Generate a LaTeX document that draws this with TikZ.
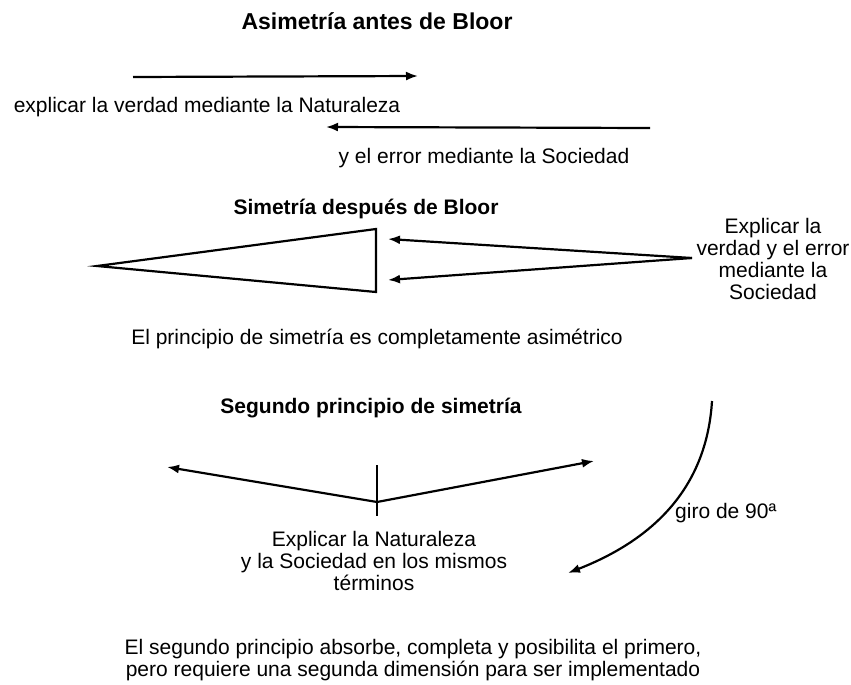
\documentclass[tikz,border=0pt]{standalone}
\usepackage{fontspec}
\setmainfont{Liberation Sans}
\usetikzlibrary{arrows.meta}
\begin{document}
\begin{tikzpicture}[x=1pt,y=-1pt,
  txt/.style={font=\fontsize{21}{22}\selectfont, inner sep=0pt, align=center},
  ttl/.style={font=\fontsize{21}{22}\selectfont\bfseries, inner sep=0pt},
  arr/.style={line width=2.2pt, -{Latex[length=12pt,width=9pt]}},
  ln/.style={line width=2.2pt}]
\useasboundingbox (0,0) rectangle (851,685);
% titles
\node[ttl, font=\fontsize{23}{24}\selectfont\bfseries] (t1) at (377,21) {Asimetría antes de Bloor};
\node[ttl] (t2) at (366,209) {Simetría después de Bloor};
\node[ttl] (t3) at (371,408) {Segundo principio de simetría};
% section 1
\coordinate (a1s) at (133,77);
\coordinate (a1e) at (418,76);
\draw[arr] (a1s) -- (a1e);
\node[txt] (x1) at (207,107) {explicar la verdad mediante la Naturaleza};
\coordinate (a2s) at (650,128);
\coordinate (a2e) at (326,127);
\draw[arr] (a2s) -- (a2e);
\node[txt] (x2) at (484,158) {y el error mediante la Sociedad};
% section 2
\coordinate (tip) at (97,266);
\coordinate (tr) at (376,229);
\coordinate (br) at (376,292);
\draw[ln, line join=miter] (tip) -- (tr) -- (br) -- cycle;
\coordinate (src) at (692,258);
\coordinate (h1) at (388,239);
\coordinate (h2) at (388,280);
\draw[arr] (src) -- (h1);
\draw[arr] (src) -- (h2);
\node[txt] (x3) at (773,259) {Explicar la\\verdad y el error\\mediante la\\Sociedad};
\node[txt] (x4) at (377,339) {El principio de simetría es completamente asimétrico};
% section 3
\coordinate (vt) at (377,465);
\coordinate (vb) at (377,516);
\coordinate (j) at (377,502);
\coordinate (lt) at (167,467);
\coordinate (rt) at (594,461);
\draw[ln] (vt) -- (vb);
\draw[arr] (j) -- (lt);
\draw[arr] (j) -- (rt);
\node[txt] (x5) at (374,561) {Explicar la Naturaleza\\y la Sociedad en los mismos\\términos};
\coordinate (cs) at (712,401);
\coordinate (ce) at (568,573);
\draw[arr] (cs) .. controls (707,482) and (660,537) .. (ce);
\node[txt, anchor=west] (g) at (675,513) {giro de 90ª};
\node[txt] (x6) at (413,660) {El segundo principio absorbe, completa y posibilita el primero,\\pero requiere una segunda dimensión para ser implementado};
\end{tikzpicture}
\end{document}
